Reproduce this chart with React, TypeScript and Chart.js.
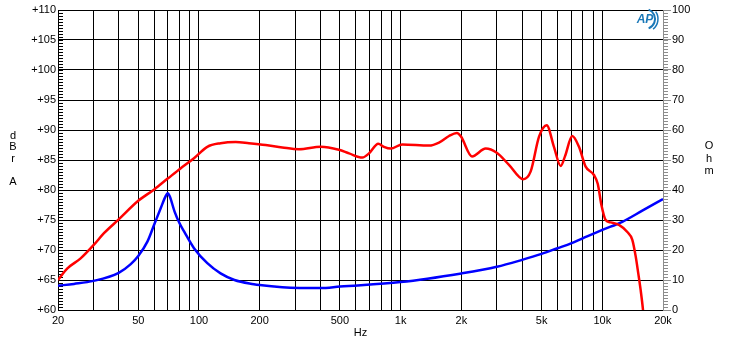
import React, { useEffect, useRef } from 'react';
import { Chart, registerables } from 'chart.js';
Chart.register(...registerables);

// ---- data ----
const redFreq = [20, 22.2, 25.9, 30, 33.8, 40, 50, 60, 70, 81, 94.5, 110, 128, 152, 177, 214, 259, 313, 402, 494, 555, 646, 697, 775, 826, 893, 1019, 1384, 1550, 1738, 1902, 1992, 2259, 2642, 2995, 3446, 4058, 4415, 4857, 5300, 5758, 6220, 6530, 7097, 7663, 8270, 9091, 9500, 9900, 10390, 11010, 12100, 13310, 14090, 14650, 15080, 15500, 15920, 16300];
const redDb = [65, 66.9, 68.6, 70.8, 72.8, 75.1, 78.2, 80.1, 81.9, 83.6, 85.3, 87.2, 87.8, 88.0, 87.8, 87.5, 87.1, 86.8, 87.2, 86.7, 86.1, 85.4, 86.1, 87.7, 87.2, 86.9, 87.6, 87.4, 87.9, 89.0, 89.5, 88.9, 85.6, 86.9, 86.2, 84.2, 81.8, 83.1, 88.9, 90.8, 87.2, 84.0, 85.6, 89.0, 87.2, 83.9, 82.5, 81.0, 77.5, 75.0, 74.6, 74.2, 73.0, 71.7, 68.9, 66.1, 63.3, 60, 56];

const blueFreq = [20, 24, 30, 40, 45.9, 50, 55.5, 60, 64.6, 68.2, 70, 71.7, 75.7, 80, 84.5, 94.5, 110, 128, 150, 187, 200, 259, 400, 500, 1000, 2000, 3000, 4000, 5000, 6000, 7000, 8000, 10000, 12570, 15790, 20000];
const blueOhm = [8.1, 8.7, 9.7, 12.4, 15.3, 18, 22.8, 28.5, 33.9, 37.8, 38.9, 37.8, 32.8, 29.0, 26.1, 20.6, 15.6, 12.2, 10.0, 8.6, 8.3, 7.6, 7.3, 7.8, 9.3, 12.2, 14.4, 16.7, 18.7, 20.6, 22.2, 23.9, 26.7, 29.4, 33.1, 37];

const xGridFreqs = [20, 30, 40, 50, 60, 70, 80, 90, 100, 200, 300, 400, 500, 600, 700, 800, 900, 1000, 2000, 3000, 4000, 5000, 6000, 7000, 8000, 9000, 10000, 20000];
const xLabelValues = [20, 50, 100, 200, 500, 1000, 2000, 5000, 10000, 20000];
const xLabelTexts = ['20', '50', '100', '200', '500', '1k', '2k', '5k', '10k', '20k'];
const dbTicks = [60, 65, 70, 75, 80, 85, 90, 95, 100, 105, 110];
const ohmTicks = [0, 10, 20, 30, 40, 50, 60, 70, 80, 90, 100];
const leftTitle = ['d', 'B', 'r', '', 'A'];
const rightTitle = ['O', 'h', 'm'];

const FONT = 'Liberation Sans, Arial, sans-serif';

const decorPlugin = {
  id: 'decor',
  beforeDatasetsDraw(chart: any) {
    const { ctx, chartArea, scales } = chart;
    const y = scales.y, y1 = scales.y1;
    ctx.save();
    ctx.lineWidth = 1;
    ctx.strokeStyle = '#000';
    for (let v = 60; v <= 110; v += 0.5) {
      const p = Math.round(y.getPixelForValue(v)) + 0.5;
      ctx.beginPath();
      ctx.moveTo(chartArea.left, p);
      ctx.lineTo(chartArea.left + 5, p);
      ctx.stroke();
    }
    ctx.strokeStyle = '#8c8c8c';
    for (let v = 0; v <= 100; v += 1) {
      const p = Math.round(y1.getPixelForValue(v)) + 0.5;
      ctx.beginPath();
      ctx.moveTo(chartArea.right, p);
      ctx.lineTo(chartArea.right + 5, p);
      ctx.stroke();
    }
    ctx.restore();
  },
  afterDraw(chart: any) {
    const { ctx, chartArea } = chart;
    ctx.save();
    ctx.fillStyle = '#000';
    ctx.font = `11px ${FONT}`;
    ctx.textAlign = 'center';
    ctx.textBaseline = 'middle';
    leftTitle.forEach((c, i) => ctx.fillText(c, 13, 135.5 + i * 11.5));
    rightTitle.forEach((c, i) => ctx.fillText(c, 709, 146 + i * 12.5));
    // logo
    const lx = chartArea.right - 14, ly = chartArea.top + 9;
    ctx.fillStyle = '#1a78b8';
    ctx.strokeStyle = '#1a78b8';
    ctx.font = `italic bold 12px ${FONT}`;
    ctx.fillText('AP', lx - 4, ly + 1);
    ctx.lineWidth = 2;
    ctx.beginPath();
    ctx.arc(lx - 4, ly, 10, -1.2, 1.2);
    ctx.stroke();
    ctx.lineWidth = 1.5;
    ctx.beginPath();
    ctx.arc(lx - 4, ly, 13, -0.6, 0.9);
    ctx.stroke();
    ctx.restore();
  },
};

export default function App() {
  const ref = useRef<HTMLCanvasElement>(null);
  useEffect(() => {
    const canvas = ref.current!;
    const chart = new Chart(canvas, {
      type: 'line',
      data: {
        datasets: [
          {
            label: 'Response',
            data: redFreq.map((f, i) => ({ x: f, y: redDb[i] })),
            borderColor: '#ff0000',
            borderWidth: 2.5,
            pointRadius: 0,
            cubicInterpolationMode: 'monotone',
            yAxisID: 'y',
            fill: false,
          },
          {
            label: 'Impedance',
            data: blueFreq.map((f, i) => ({ x: f, y: blueOhm[i] })),
            borderColor: '#0000ff',
            borderWidth: 2.5,
            pointRadius: 0,
            cubicInterpolationMode: 'monotone',
            yAxisID: 'y1',
            fill: false,
          },
        ],
      },
      options: {
        responsive: false,
        animation: false,
        events: [],
        layout: { padding: { top: 10, left: 0, right: 0, bottom: 0 } },
        plugins: { legend: { display: false }, tooltip: { enabled: false } },
        scales: {
          x: {
            type: 'logarithmic',
            min: 20,
            max: 20000,
            position: 'bottom',
            afterBuildTicks: (s: any) => { s.ticks = xGridFreqs.map((v) => ({ value: v })); },
            afterFit: (s: any) => { s.height = 33; },
            ticks: {
              autoSkip: false,
              maxRotation: 0,
              minRotation: 0,
              padding: 4,
              color: '#000',
              font: { family: FONT, size: 11 },
              callback: (v: any) => {
                const i = xLabelValues.indexOf(Number(v));
                return i >= 0 ? xLabelTexts[i] : '';
              },
            },
            grid: { color: '#000', lineWidth: 1, drawTicks: false },
            border: { color: '#000' },
            title: { display: true, text: 'Hz', color: '#000', font: { family: FONT, size: 11 }, padding: { top: 0, bottom: 3 } },
          },
          y: {
            type: 'linear',
            position: 'left',
            min: 60,
            max: 110,
            afterBuildTicks: (s: any) => { s.ticks = dbTicks.map((v) => ({ value: v })); },
            afterFit: (s: any) => { s.width = 58; },
            ticks: {
              padding: 2,
              color: '#000',
              font: { family: FONT, size: 11 },
              callback: (v: any) => '+' + v,
            },
            grid: { color: '#000', lineWidth: 1, drawTicks: false },
            border: { color: '#000' },
          },
          y1: {
            type: 'linear',
            position: 'right',
            min: 0,
            max: 100,
            afterBuildTicks: (s: any) => { s.ticks = ohmTicks.map((v) => ({ value: v })); },
            afterFit: (s: any) => { s.width = 67; },
            ticks: {
              padding: 1,
              color: '#000',
              font: { family: FONT, size: 11 },
            },
            grid: { drawOnChartArea: false, drawTicks: true, tickLength: 8, color: '#8c8c8c' },
            border: { color: '#8c8c8c' },
          },
        },
      } as any,
      plugins: [decorPlugin],
    });
    return () => chart.destroy();
  }, []);
  return (
    <div style={{ position: 'fixed', left: 0, top: 0, width: 730, height: 343, background: '#fff' }}>
      <canvas ref={ref} width={730} height={343} style={{ display: 'block' }} />
    </div>
  );
}
